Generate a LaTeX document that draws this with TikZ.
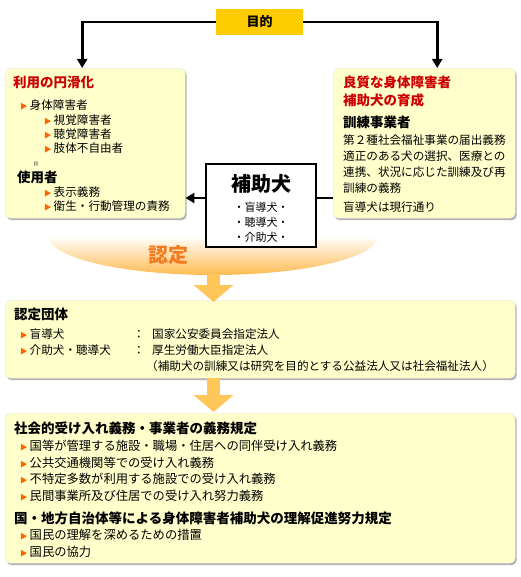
\documentclass[tikz,border=0pt]{standalone}
\usepackage{fontspec}
\setmainfont{Noto Sans CJK JP}
\usetikzlibrary{arrows.meta, positioning, calc, shadows}

\definecolor{paleyellow}{HTML}{FFFFCC}
\definecolor{goalyellow}{HTML}{FFCC00}
\definecolor{titlered}{HTML}{CC0000}
\definecolor{markorange}{HTML}{FF6600}
\definecolor{floworange}{HTML}{FFC65A}
\definecolor{certorange}{HTML}{F47A1F}

\newcommand{\mk}{{\color{markorange}\fontsize{7.5}{8}\selectfont ▶}\hspace{2pt}}

\begin{document}
\begin{tikzpicture}[x=1pt, y=-1pt,
    panel/.style={rectangle, rounded corners=5pt, fill=paleyellow, draw=black!12, anchor=north west, inner sep=0,
        drop shadow={shadow xshift=1.5pt, shadow yshift=-2pt, fill=black, opacity=0.3}},
    txt/.style={font=\fontsize{11.6}{14}\selectfont, anchor=west, inner sep=0},
    head/.style={font=\fontsize{13.5}{16}\selectfont\bfseries, anchor=west, inner sep=0},
    redhead/.style={head, text=titlered},
    arrow/.style={-{Triangle[length=9pt, width=10pt]}, line width=2.6pt},
    link/.style={line width=2.6pt},
    fatarrow/.style={-{Triangle[length=17pt, width=39pt]}, line width=12.5pt, draw=floworange}
]
    \useasboundingbox (0,0) rectangle (520,577);

    % Goal
    \node[fill=goalyellow, minimum width=87pt, minimum height=26pt, inner sep=0,
          font=\fontsize{13}{15}\selectfont\bfseries] (goal) at (259.5,22) {目的};

    % --- Left and right panels ---
    \node[panel, minimum width=180pt, minimum height=150pt] (lbox) at (5,68) {};
    \node[panel, minimum width=182pt, minimum height=150pt] (rbox) at (333,68) {};

    \draw[arrow] (goal.west) -| ([xshift=-13pt]lbox.north);
    \draw[arrow] (goal.east) -| ([xshift=13pt]rbox.north);

    % left panel texts
    \node[redhead] (ltitle) at (13,82) {利用の円滑化};
    \node[txt] (disabled) at (20,105) {\mk 身体障害者};
    \foreach \y/\t [count=\i] in {120/視覚障害者, 134/聴覚障害者, 148/肢体不自由者}
        \node[txt] (kind-\i) at (44,\y) {\mk\t};
    \node[rotate=90, inner sep=0, font=\fontsize{9}{9}\selectfont] (equal) at (37,164) {=};
    \node[head] (user) at (17,177) {使用者};
    \foreach \y/\t [count=\i] in {192/表示義務, 206/衛生・行動管理の責務}
        \node[txt] (userduty-\i) at (44,\y) {\mk\t};

    % right panel texts
    \node[redhead] (rtitle1) at (343,82) {良質な身体障害者};
    \node[redhead] (rtitle2) at (343,100) {補助犬の育成};
    \node[head] (trainer) at (343,122) {訓練事業者};
    \foreach \y/\t [count=\i] in {140/第２種社会福祉事業の届出義務, 156/適正のある犬の選択、医療との,
                                 172/連携、状況に応じた訓練及び再, 188/訓練の義務, 207/盲導犬は現行通り}
        \node[txt] (trainduty-\i) at (343,\y) {\t};

    % --- Certification ---
    \shade[top color=white, bottom color=floworange!85!certorange]
        (48,236) arc[start angle=180, end angle=360, x radius=165pt, y radius=39pt] -- cycle;
    \node[font=\fontsize{20}{22}\selectfont\bfseries, text=certorange, inner sep=0] (cert) at (168,255) {認定};
    \coordinate (flow) at (213.5,274);

    % Center box
    \node[draw, line width=2.6pt, fill=white, minimum width=110pt, minimum height=83pt, inner sep=0] (dog) at (261,205.5) {};
    \node[font=\fontsize{20}{22}\selectfont\bfseries, inner sep=0] (dogtitle) at (261,184) {補助犬};
    \foreach \y/\t [count=\i] in {207/盲導犬, 222/聴導犬, 237/介助犬}
        \node[font=\fontsize{11}{13}\selectfont, inner sep=0] (dogkind-\i) at (261,\y) {・\t・};

    \draw[arrow] ([yshift=7.5pt]dog.west) -- ([yshift=7.5pt]dog.west -| lbox.east);
    \draw[link] ([yshift=7.5pt]dog.east) -- ([yshift=7.5pt]dog.east -| rbox.west);

    % --- Certified bodies ---
    \node[panel, minimum width=510pt, minimum height=78pt] (group) at (5,300) {};
    \draw[fatarrow] (flow) -- ([yshift=-2pt]group.north -| flow);
    \node[head] (gtitle) at (14,314) {認定団体};
    \node[txt] (guide) at (20,334) {\mk 盲導犬};
    \node[txt] (guidecolon) at (133,334) {：};
    \node[txt] (guidebody) at (152,334) {国家公安委員会指定法人};
    \node[txt] (service) at (20,350) {\mk 介助犬・聴導犬};
    \node[txt] (servicecolon) at (133,350) {：};
    \node[txt] (servicebody) at (152,350) {厚生労働大臣指定法人};
    \node[txt] (note) at (146,366) {（補助犬の訓練又は研究を目的とする公益法人又は社会福祉法人）};

    % --- Duties ---
    \node[panel, minimum width=510pt, minimum height=150pt] (duty) at (5,413) {};
    \draw[fatarrow] (group.south -| flow) -- ([yshift=1pt]duty.north -| flow);
    \node[head] (dtitle1) at (14,428) {社会的受け入れ義務・事業者の義務規定};
    \foreach \y/\t [count=\i] in {446/国等が管理する施設・職場・住居への同伴受け入れ義務,
                                 463/公共交通機関等での受け入れ義務,
                                 479/不特定多数が利用する施設での受け入れ義務,
                                 496/民間事業所及び住居での受け入れ努力義務}
        \node[txt, font=\fontsize{12.3}{14}\selectfont] (accept-\i) at (20,\y) {\mk\t};
    \node[head] (dtitle2) at (14,518) {国・地方自治体等による身体障害者補助犬の理解促進努力規定};
    \foreach \y/\t [count=\i] in {535/国民の理解を深めるための措置, 552/国民の協力}
        \node[txt, font=\fontsize{12.3}{14}\selectfont] (public-\i) at (20,\y) {\mk\t};

\end{tikzpicture}
\end{document}
